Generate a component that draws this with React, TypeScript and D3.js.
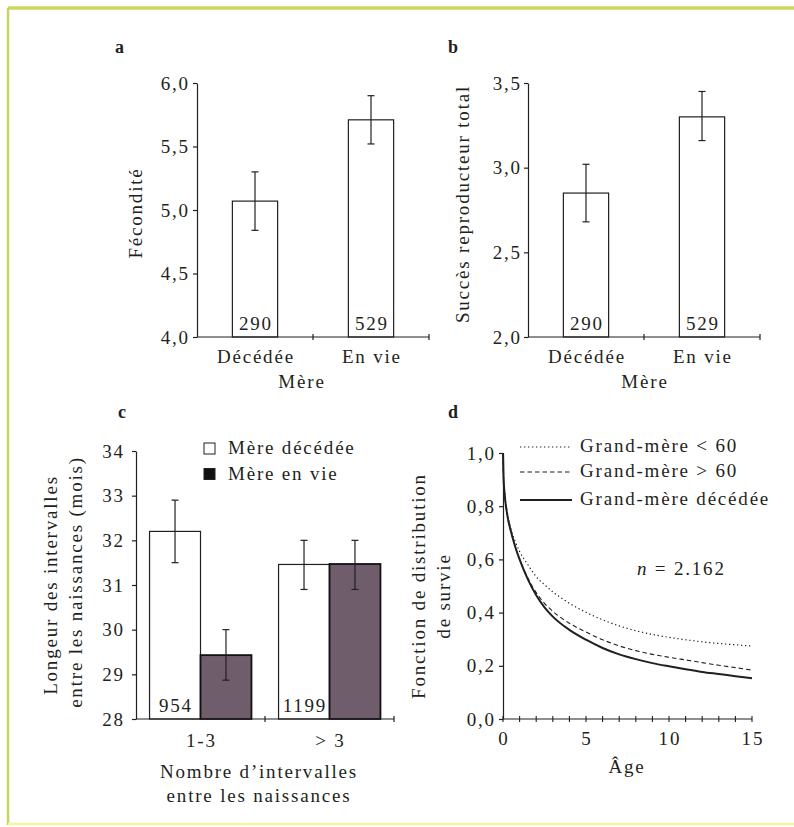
import React, { useEffect, useRef } from 'react';
import * as d3 from 'd3';

// panels a and b: mother dead / alive
const mothers = ['Décédée', 'En vie'];
const motherCounts = ['290', '529'];
const fecondite = [5.07, 5.71];
const feconditeLow = [4.84, 5.52];
const feconditeHigh = [5.3, 5.9];
const succes = [2.85, 3.3];
const succesLow = [2.68, 3.16];
const succesHigh = [3.02, 3.45];

// panel c: birth intervals
const intervalGroups = ['1-3', '> 3'];
const intervalSeries = ['Mère décédée', 'Mère en vie'];
const intervalCounts = ['954', '1199'];
const intervalDeceased = [32.2, 31.46];
const intervalDeceasedLow = [31.5, 30.9];
const intervalDeceasedHigh = [32.9, 32.0];
const intervalAlive = [29.43, 31.47];
const intervalAliveLow = [28.87, 30.9];
const intervalAliveHigh = [30.0, 32.0];

// panel d: survival curves
const ages = [0, 0.03, 0.1, 0.25, 0.5, 0.75, 1, 1.5, 2, 2.5, 3, 4, 5, 6, 7, 8, 9, 10, 11, 12, 13, 14, 15];
const survieUnder60 = [1.0, 0.92, 0.85, 0.78, 0.71, 0.665, 0.63, 0.58, 0.535, 0.505, 0.478, 0.435, 0.401, 0.373, 0.35, 0.332, 0.318, 0.307, 0.298, 0.29, 0.284, 0.279, 0.274];
const survieOver60 = [1.0, 0.91, 0.845, 0.77, 0.7, 0.645, 0.6, 0.53, 0.475, 0.435, 0.405, 0.36, 0.327, 0.298, 0.275, 0.257, 0.243, 0.232, 0.222, 0.212, 0.202, 0.193, 0.184];
const survieDeceased = [1.0, 0.91, 0.845, 0.77, 0.7, 0.645, 0.6, 0.525, 0.465, 0.42, 0.385, 0.335, 0.298, 0.267, 0.243, 0.225, 0.21, 0.198, 0.187, 0.177, 0.169, 0.161, 0.153];
const survieNames = ['Grand-mère < 60', 'Grand-mère > 60', 'Grand-mère décédée'];

const ticksA = [4, 4.5, 5, 5.5, 6];
const ticksB = [2, 2.5, 3, 3.5];
const ticksC = [28, 29, 30, 31, 32, 33, 34];
const ticksDy = [0, 0.2, 0.4, 0.6, 0.8, 1];
const ticksDx = [0, 5, 10, 15];

const FONT = "'Liberation Serif', 'Times New Roman', serif";
const ink = '#231f20';
const LS = 1.8;

const App = () => {
  const ref = useRef<SVGSVGElement>(null);

  useEffect(() => {
    const svg = d3.select(ref.current);
    svg.selectAll('*').remove();

    // frame
    svg.append('line').attr('x1', 8).attr('x2', 794).attr('y1', 8).attr('y2', 8).attr('stroke', '#cdd65e').attr('stroke-width', 3.5);
    svg.append('line').attr('x1', 8).attr('x2', 8).attr('y1', 8).attr('y2', 825).attr('stroke', '#c6d55f').attr('stroke-width', 2.5);
    svg.append('line').attr('x1', 8).attr('x2', 794).attr('y1', 824).attr('y2', 824).attr('stroke', '#f1f59c').attr('stroke-width', 2.5);

    const comma = (d: number) => d3.format('.1f')(d).replace('.', ',');

    const label = (x: number, y: number, s: string, anchor = 'middle', rotate = false, size = 19) => {
      const t = svg.append('text')
        .attr('font-family', FONT).attr('font-size', size).attr('letter-spacing', LS)
        .attr('fill', ink).attr('text-anchor', anchor).text(s);
      if (rotate) t.attr('transform', `translate(${x},${y}) rotate(-90)`).attr('dy', '0.35em');
      else t.attr('x', x).attr('y', y);
      return t;
    };

    const panelTitle = (x: number, y: number, s: string) =>
      svg.append('text').attr('x', x).attr('y', y).attr('font-family', FONT).attr('font-weight', 'bold')
        .attr('font-size', 18).attr('fill', ink).text(s);

    const drawYAxis = (x: number, scale: any, ticks: number[], fmt: any, pad: number) => {
      const g = svg.append('g').attr('transform', `translate(${x},0)`)
        .call(d3.axisLeft(scale).tickValues(ticks).tickFormat(fmt).tickSize(4).tickSizeOuter(0).tickPadding(pad));
      g.attr('font-family', FONT).attr('font-size', 19);
      g.selectAll('path, line').attr('stroke', ink).attr('stroke-width', 1.2);
      g.selectAll('text').attr('fill', ink).attr('letter-spacing', LS);
    };

    const drawBandAxis = (scale: any, y: number) => {
      const [x0, x1] = scale.range();
      svg.append('line').attr('x1', x0).attr('x2', x1).attr('y1', y).attr('y2', y).attr('stroke', ink).attr('stroke-width', 1.2);
      d3.range(1, scale.domain().length + 1).forEach(i => {
        const x = x0 + i * scale.step();
        svg.append('line').attr('x1', x).attr('x2', x).attr('y1', y - 3).attr('y2', y + 3).attr('stroke', ink).attr('stroke-width', 1.2);
      });
    };

    const errorBar = (x: number, y0: number, y1: number) => {
      svg.append('line').attr('x1', x).attr('x2', x).attr('y1', y0).attr('y2', y1).attr('stroke', ink).attr('stroke-width', 1.2);
      [y0, y1].forEach(y => svg.append('line').attr('x1', x - 3.5).attr('x2', x + 3.5).attr('y1', y).attr('y2', y).attr('stroke', ink).attr('stroke-width', 1.2));
    };

    // ---- panels a & b ----
    const simplePanel = (x0: number, x1: number, domain: number[], ticks: number[], pad: number,
                         vals: number[], lo: number[], hi: number[]) => {
      const x = d3.scaleBand().domain(mothers).range([x0, x1]).paddingInner(0.61).paddingOuter(0.305);
      const y = d3.scaleLinear().domain(domain).range([337, 83]);
      mothers.forEach((m, i) => {
        svg.append('rect').attr('x', x(m)!).attr('y', y(vals[i])).attr('width', x.bandwidth())
          .attr('height', y(domain[0]) - y(vals[i])).attr('fill', '#fff').attr('stroke', ink).attr('stroke-width', 1.2);
        errorBar(x(m)! + x.bandwidth() / 2, y(hi[i]), y(lo[i]));
        label(x(m)! + x.bandwidth() / 2 + LS / 2, y(domain[0]) - 7, motherCounts[i]);
        label(x(m)! + x.bandwidth() / 2 + LS / 2, 363, m);
      });
      drawBandAxis(x, y(domain[0]));
      drawYAxis(x0, y, ticks, comma, pad);
      return x;
    };

    simplePanel(197, 429, [4, 6], ticksA, 3.2, fecondite, feconditeLow, feconditeHigh);
    label(302, 388, 'Mère');
    label(135, 213, 'Fécondité', 'middle', true);
    panelTitle(115, 53, 'a');

    simplePanel(528, 760, [2, 3.5], ticksB, 2.2, succes, succesLow, succesHigh);
    label(645, 388, 'Mère');
    label(462, 204, 'Succès reproducteur total', 'middle', true);
    panelTitle(448, 53, 'b');

    // ---- panel c ----
    const xc = d3.scaleBand().domain(intervalGroups).range([136, 394]).paddingInner(0.21).paddingOuter(0.105);
    const xs = d3.scaleBand().domain(intervalSeries).range([0, xc.bandwidth()]);
    const yc = d3.scaleLinear().domain([28, 34]).range([719, 451]);
    const seriesVals = [intervalDeceased, intervalAlive];
    const seriesLo = [intervalDeceasedLow, intervalAliveLow];
    const seriesHi = [intervalDeceasedHigh, intervalAliveHigh];
    const seriesFill = ['#ffffff', '#6f5d6b'];
    intervalGroups.forEach((g, gi) => {
      intervalSeries.forEach((s, si) => {
        const bx = xc(g)! + xs(s)!;
        const v = seriesVals[si][gi];
        svg.append('rect').attr('x', bx).attr('y', yc(v)).attr('width', xs.bandwidth())
          .attr('height', yc(28) - yc(v)).attr('fill', seriesFill[si])
          .attr('stroke', si === 1 ? '#111' : ink).attr('stroke-width', si === 1 ? 1.8 : 1.2);
        errorBar(bx + xs.bandwidth() / 2, yc(seriesHi[si][gi]), yc(seriesLo[si][gi]));
      });
      label(xc(g)! + xs(intervalSeries[0])! + xs.bandwidth() / 2 + LS / 2, yc(28) - 7, intervalCounts[gi]);
      label(xc(g)! + xc.bandwidth() / 2 + LS / 2, 747, g);
    });
    drawBandAxis(xc, yc(28));
    drawYAxis(136, yc, ticksC, d3.format('d'), 7.2);
    // legend c
    intervalSeries.forEach((s, si) => {
      svg.append('rect').attr('x', 204).attr('y', 443 + si * 25.5).attr('width', 11).attr('height', 11)
        .attr('fill', si === 0 ? '#fff' : '#111').attr('stroke', ink).attr('stroke-width', 1);
      label(228, 454 + si * 26, s, 'start');
    });
    label(259, 778, 'Nombre d\u2019intervalles');
    label(259, 802, 'entre les naissances');
    label(50, 585, 'Longeur des intervalles', 'middle', true);
    label(75, 582, 'entre les naissances (mois)', 'middle', true);
    panelTitle(118, 418, 'c');

    // ---- panel d ----
    const xd = d3.scaleLinear().domain([0, 15]).range([503, 752]);
    const yd = d3.scaleLinear().domain([0, 1]).range([719, 453]);
    const line = d3.line<number>().x((_, i) => xd(ages[i])).y(d => yd(d)).curve(d3.curveMonotoneX);
    const styles = [
      { dash: '1.3,2.7', w: 1.2 },
      { dash: '4.5,3', w: 1.1 },
      { dash: null, w: 2 },
    ];
    [survieUnder60, survieOver60, survieDeceased].forEach((s, i) => {
      svg.append('path').attr('d', line(s)).attr('fill', 'none').attr('stroke', ink)
        .attr('stroke-width', styles[i].w).attr('stroke-dasharray', styles[i].dash);
    });
    // x axis with crossing ticks
    svg.append('line').attr('x1', xd(0)).attr('x2', xd(15)).attr('y1', yd(0)).attr('y2', yd(0)).attr('stroke', ink).attr('stroke-width', 1.2);
    d3.range(0, 16).forEach(t => {
      svg.append('line').attr('x1', xd(t)).attr('x2', xd(t)).attr('y1', yd(0) - 3).attr('y2', yd(0) + 3)
        .attr('stroke', ink).attr('stroke-width', 1.1);
    });
    ticksDx.forEach(t => label(xd(t) + LS / 2, 745, String(t)));
    drawYAxis(503, yd, ticksDy, comma, 3.2);
    // legend d
    survieNames.forEach((n, i) => {
      const ly = [447, 472, 500][i];
      svg.append('line').attr('x1', 520).attr('x2', 572).attr('y1', ly).attr('y2', ly).attr('stroke', ink)
        .attr('stroke-width', styles[i].w).attr('stroke-dasharray', styles[i].dash);
      label(580, [452, 477, 505][i], n, 'start');
    });
    const nt = label(637, 575, '', 'start');
    nt.append('tspan').attr('font-style', 'italic').text('n');
    nt.append('tspan').text(' = 2.162');
    label(627, 773, 'Âge');
    label(418, 586, 'Fonction de distribution', 'middle', true);
    label(443, 596, 'de survie', 'middle', true);
    panelTitle(448, 418, 'd');
  }, []);

  return (
    <svg ref={ref} width={794} height={827}
      style={{ position: 'absolute', left: 0, top: 0, background: '#fff' }} />
  );
};

export default App;
